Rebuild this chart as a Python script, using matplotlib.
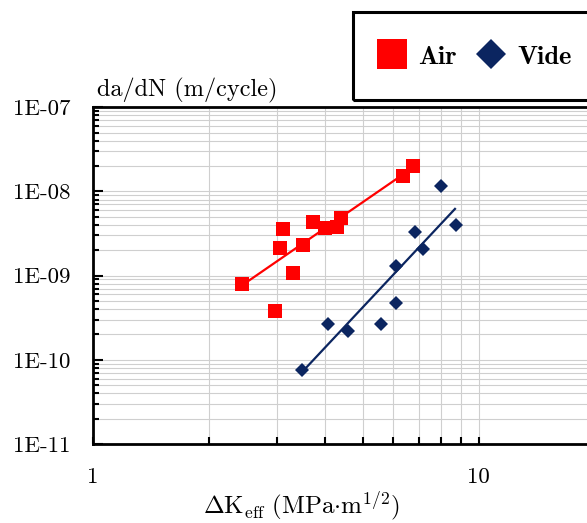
import matplotlib
matplotlib.use('Agg')
import matplotlib.pyplot as plt
from matplotlib.lines import Line2D
from matplotlib.patches import Rectangle
from matplotlib.ticker import LogLocator, NullFormatter, FixedLocator, FixedFormatter

plt.rcParams['mathtext.fontset'] = 'cm'
plt.rcParams['font.family'] = 'cmr10'
plt.rcParams['axes.formatter.use_mathtext'] = True

# values
air_dk = [2.44, 2.97, 3.06, 3.11, 3.30, 3.51, 3.72, 4.00, 4.30, 4.40, 6.37, 6.76]
air_dadn = [7.9e-10, 3.8e-10, 2.1e-9, 3.6e-9, 1.07e-9, 2.3e-9, 4.3e-9, 3.7e-9, 3.8e-9, 4.9e-9, 1.52e-8, 2.0e-8]
vide_dk = [3.49, 4.07, 4.58, 5.58, 6.10, 6.10, 6.84, 7.17, 7.99, 8.73]
vide_dadn = [7.5e-11, 2.7e-10, 2.2e-10, 2.7e-10, 4.7e-10, 1.3e-9, 3.3e-9, 2.06e-9, 1.15e-8, 4.0e-9]

# trend lines (end points)
air_fit_dk = [2.44, 6.44]
air_fit_dadn = [7.7e-10, 1.65e-8]
vide_fit_dk = [3.51, 8.68]
vide_fit_dadn = [7.4e-11, 6.2e-9]

yticks = [1e-11, 1e-10, 1e-9, 1e-8, 1e-7]
ytick_labels = ['1E-11', '1E-10', '1E-09', '1E-08', '1E-07']
xticks = [1, 10]
xtick_labels = ['1', '10']

red = '#ff0000'
navy = '#0b2560'

fig = plt.figure(figsize=(5.87, 5.23), dpi=100)
ax = fig.add_axes([0.158, 0.151, 0.842, 0.644])

ax.plot(air_fit_dk, air_fit_dadn, color=red, lw=1.6, zorder=3)
ax.plot(vide_fit_dk, vide_fit_dadn, color=navy, lw=1.6, zorder=3)
ax.plot(air_dk, air_dadn, 's', color=red, ms=10.5, mew=0, zorder=4)
ax.plot(vide_dk, vide_dadn, 'D', color=navy, ms=6.8, mew=0, zorder=4)

ax.set_xscale('log')
ax.set_yscale('log')
ax.set_xlim(1, 19.08)
ax.set_ylim(1e-11, 1e-7)

ax.xaxis.set_major_locator(FixedLocator(xticks))
ax.xaxis.set_major_formatter(FixedFormatter(xtick_labels))
ax.xaxis.set_minor_locator(LogLocator(base=10, subs=range(2, 10)))
ax.xaxis.set_minor_formatter(NullFormatter())
ax.yaxis.set_major_locator(FixedLocator(yticks))
ax.yaxis.set_major_formatter(FixedFormatter(ytick_labels))
ax.yaxis.set_minor_locator(LogLocator(base=10, subs=range(2, 10)))
ax.yaxis.set_minor_formatter(NullFormatter())

ax.tick_params(axis='both', which='both', direction='in', color='black', width=1.5)
ax.tick_params(axis='y', which='major', length=7, pad=16, labelsize=16.5)
ax.tick_params(axis='y', which='minor', length=4)
ax.tick_params(axis='x', which='major', length=5, pad=17, labelsize=16.5)
ax.tick_params(axis='x', which='minor', length=5)

ax.grid(True, which='both', color='#cfcfcf', lw=0.8)
ax.set_axisbelow(True)

for side in ['left', 'bottom', 'top']:
    ax.spines[side].set_linewidth(2)
ax.spines['right'].set_visible(False)

fig.text(97 / 587, 1 - 90 / 523, 'da/dN (m/cycle)', ha='left', va='center', fontsize=17.5)
fig.text(301 / 587, 1 - 506 / 523,
         r'$\Delta\mathrm{K}_{\mathrm{eff}}\ (\mathrm{MPa{\cdot}m}^{1/2})$',
         ha='center', va='center', fontsize=18)

# legend box (runs off the right edge)
fig.add_artist(Rectangle((353 / 587, 1 - 100 / 523), 0.5, 88 / 523,
                         transform=fig.transFigure, fill=False, ec='black', lw=2.2))
handles = [Line2D([], [], ls='', marker='s', color=red, ms=22, mew=0),
           Line2D([], [], ls='', marker='D', color=navy, ms=15, mew=0)]
fig.legend(handles, ['Air', 'Vide'], loc='center left',
           bbox_to_anchor=(376 / 587, 1 - 57 / 523), ncol=2, frameon=False,
           prop={'family': 'cmb10', 'size': 19}, handlelength=1.2,
           handletextpad=0.4, columnspacing=0.7, borderaxespad=0, borderpad=0)

fig.savefig('out.png', dpi=100)
